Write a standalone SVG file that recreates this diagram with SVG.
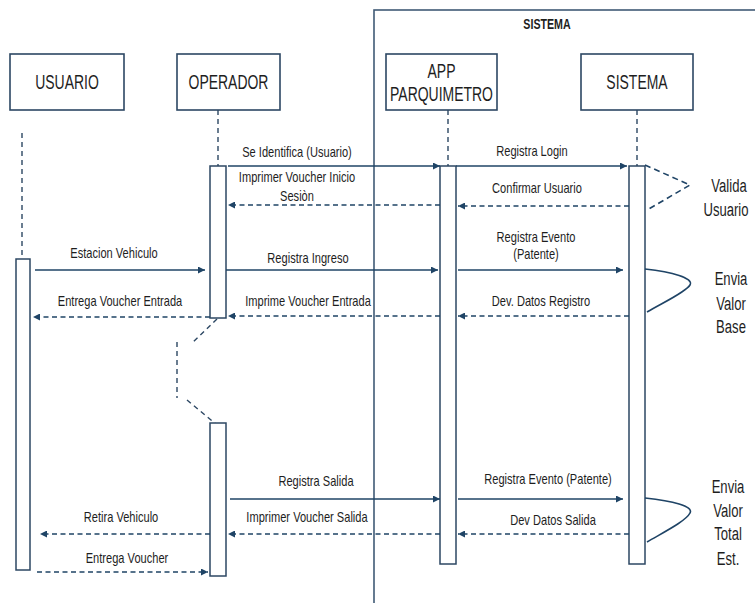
<svg xmlns="http://www.w3.org/2000/svg" width="755" height="603" viewBox="0 0 755 603">
  <style>
    text { font-family: "Liberation Sans", Arial, sans-serif; fill: #1e1e1e; text-anchor: middle; }
    .box { fill: #ffffff; stroke: #2c4763; stroke-width: 1.6; }
    .act { fill: #ffffff; stroke: #2c4763; stroke-width: 1.5; }
    .life { fill: none; stroke: #2c4763; stroke-width: 1.4; stroke-dasharray: 5 4; }
    .frame { fill: none; stroke: #405a76; stroke-width: 1.6; }
    .call { fill: none; stroke: #1f4466; stroke-width: 1.6; marker-end: url(#tip); }
    .ret { fill: none; stroke: #1f4466; stroke-width: 1.6; stroke-dasharray: 5 3.5; marker-end: url(#tip); }
    .self { fill: none; stroke: #1f4466; stroke-width: 1.6; }
    .selfd { fill: none; stroke: #1f4466; stroke-width: 1.6; stroke-dasharray: 6 4; }
    .lbl { font-size: 15.4px; }
    .head { font-size: 19.4px; }
    .note { font-size: 18.2px; }
    .title { font-size: 14.8px; font-weight: bold; }
  </style>
  <defs>
    <marker id="tip" viewBox="0 0 10 10" refX="10" refY="5" markerWidth="7" markerHeight="7" markerUnits="userSpaceOnUse" orient="auto">
      <path d="M0,0 L10,5 L0,10 Z" fill="#1f4466"/>
    </marker>
  </defs>

  <rect width="755" height="603" fill="#ffffff"/>

  <!-- system boundary -->
  <g id="frame-sistema">
    <rect class="frame" x="374" y="10" width="420" height="640"/>
    <text class="title" transform="translate(547,29) scale(0.72,1)">SISTEMA</text>
  </g>

  <!-- lifelines -->
  <g id="lifelines">
    <line class="life" x1="22" y1="133" x2="22" y2="259"/>
    <line class="life" x1="218" y1="110" x2="218" y2="166"/>
    <line class="life" x1="448" y1="110" x2="448" y2="166"/>
    <line class="life" x1="637" y1="110" x2="637" y2="166"/>
    <!-- break in the operator lifeline -->
    <path class="life" d="M217,319 L193,342"/>
    <path class="life" d="M177,342 L177,398"/>
    <path class="life" d="M187,400 L217,425"/>
  </g>

  <!-- participants -->
  <g id="usuario">
    <rect class="box" x="10" y="54" width="114" height="56"/>
    <text class="head" transform="translate(67,89) scale(0.72,1)">USUARIO</text>
    <rect class="act" x="16" y="259" width="14" height="311"/>
  </g>
  <g id="operador">
    <rect class="box" x="177" y="54" width="103" height="56"/>
    <text class="head" transform="translate(228.5,89) scale(0.72,1)">OPERADOR</text>
    <rect class="act" x="210" y="166" width="16" height="152"/>
    <rect class="act" x="210" y="423" width="16" height="153"/>
  </g>
  <g id="app-parquimetro">
    <rect class="box" x="386" y="54" width="111" height="56"/>
    <text class="head" transform="translate(441.5,78) scale(0.72,1)">APP</text>
    <text class="head" transform="translate(441.5,101) scale(0.72,1)">PARQUIMETRO</text>
    <rect class="act" x="440" y="166" width="16" height="398"/>
  </g>
  <g id="sistema">
    <rect class="box" x="581" y="54" width="112" height="56"/>
    <text class="head" transform="translate(637,89) scale(0.72,1)">SISTEMA</text>
    <rect class="act" x="629" y="166" width="16" height="398"/>
  </g>

  <!-- messages -->
  <g id="connectors">
    <line class="call" x1="228" y1="166" x2="440" y2="166"/>
    <line class="call" x1="456" y1="166" x2="627" y2="166"/>
    <line class="ret" x1="440" y1="205" x2="228" y2="205"/>
    <line class="ret" x1="629" y1="206" x2="458" y2="206"/>
    <path class="selfd" d="M645,165 L690,185 L647,210"/>

    <line class="call" x1="35" y1="270" x2="205" y2="270"/>
    <line class="call" x1="226" y1="270" x2="438" y2="270"/>
    <line class="call" x1="458" y1="270" x2="623" y2="270"/>
    <path class="self" d="M645,269 C672,272 694,278 690,285 C686,292 664,302 647,312"/>
    <line class="ret" x1="210" y1="317" x2="33" y2="317"/>
    <line class="ret" x1="440" y1="316" x2="228" y2="316"/>
    <line class="ret" x1="629" y1="316" x2="458" y2="316"/>

    <line class="call" x1="230" y1="499" x2="440" y2="499"/>
    <line class="call" x1="458" y1="499" x2="623" y2="499"/>
    <path class="self" d="M645,498 C672,501 694,506 690,513 C686,521 664,532 647,542"/>
    <line class="ret" x1="210" y1="534" x2="40" y2="534"/>
    <line class="ret" x1="440" y1="534" x2="228" y2="534"/>
    <line class="ret" x1="629" y1="534" x2="458" y2="534"/>
    <line class="ret" x1="37" y1="572" x2="208" y2="572"/>
  </g>

  <!-- message labels -->
  <g id="labels">
    <text class="lbl" transform="translate(297,157) scale(0.72,1)">Se Identifica (Usuario)</text>
    <text class="lbl" transform="translate(532,156) scale(0.72,1)">Registra Login</text>
    <text class="lbl" transform="translate(297,182) scale(0.72,1)">Imprimer Voucher Inicio</text>
    <text class="lbl" transform="translate(297,201) scale(0.72,1)">Sesiòn</text>
    <text class="lbl" transform="translate(537,193) scale(0.72,1)">Confirmar Usuario</text>
    <text class="note" transform="translate(729,192) scale(0.72,1)">Valida</text>
    <text class="note" transform="translate(726,216) scale(0.72,1)">Usuario</text>

    <text class="lbl" transform="translate(114,258) scale(0.72,1)">Estacion Vehiculo</text>
    <text class="lbl" transform="translate(308,263) scale(0.72,1)">Registra Ingreso</text>
    <text class="lbl" transform="translate(536,242) scale(0.72,1)">Registra Evento</text>
    <text class="lbl" transform="translate(536,259) scale(0.72,1)">(Patente)</text>
    <text class="note" transform="translate(731,285) scale(0.72,1)">Envia</text>
    <text class="note" transform="translate(731,310) scale(0.72,1)">Valor</text>
    <text class="note" transform="translate(731,333) scale(0.72,1)">Base</text>
    <text class="lbl" transform="translate(120,306) scale(0.72,1)">Entrega Voucher Entrada</text>
    <text class="lbl" transform="translate(308,306) scale(0.72,1)">Imprime Voucher Entrada</text>
    <text class="lbl" transform="translate(541,306) scale(0.72,1)">Dev. Datos Registro</text>

    <text class="lbl" transform="translate(316,486) scale(0.72,1)">Registra Salida</text>
    <text class="lbl" transform="translate(548,484) scale(0.72,1)">Registra Evento (Patente)</text>
    <text class="note" transform="translate(728,493) scale(0.72,1)">Envia</text>
    <text class="note" transform="translate(728,517) scale(0.72,1)">Valor</text>
    <text class="note" transform="translate(728,540) scale(0.72,1)">Total</text>
    <text class="note" transform="translate(728,565) scale(0.72,1)">Est.</text>
    <text class="lbl" transform="translate(121,522) scale(0.72,1)">Retira Vehiculo</text>
    <text class="lbl" transform="translate(307,522) scale(0.72,1)">Imprimer Voucher Salida</text>
    <text class="lbl" transform="translate(553,525) scale(0.72,1)">Dev Datos Salida</text>
    <text class="lbl" transform="translate(127,563) scale(0.72,1)">Entrega Voucher</text>
  </g>
</svg>
